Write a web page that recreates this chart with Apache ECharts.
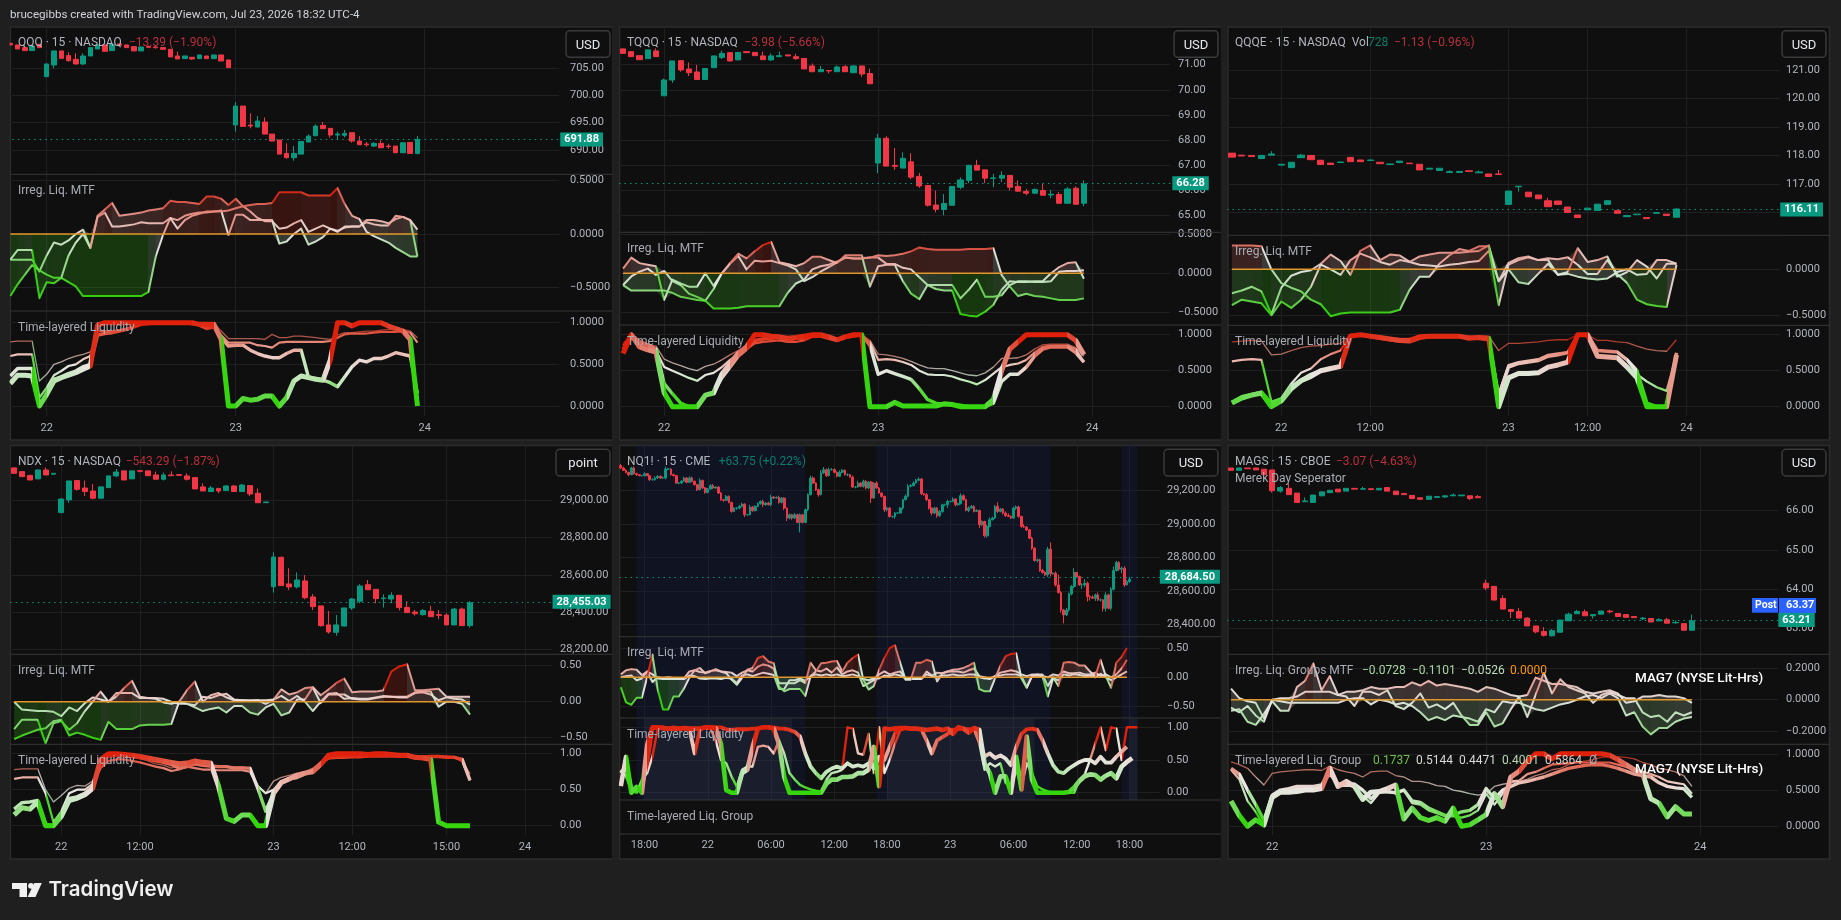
<!DOCTYPE html>
<html><head><meta charset="utf-8">
<style>html,body{margin:0;padding:0;background:#1f1f1f}#c{width:1841px;height:920px}</style>
<script src="https://cdn.jsdelivr.net/npm/echarts@6/dist/echarts.min.js"></script>
</head><body><div id="c"></div>
<script>
// ---------- DATA : candles are [open, close, low, high]
const qqqTime=[[5,'22'],[31,'23'],[57,'24']];
const qqqTicks=[690,695,700,705];
const qqqLast=691.88;
const qqqBars=[[709.61,709.3,709.3,709.61],[709.3,708.56,708.56,709.3],[708.81,708.26,708.26,708.81],[708.26,709.12,708.26,709.12],[709.43,708.81,708.81,709.43],
[703.46,705.8,703.46,705.9],[705.61,708.2,705,708.25],[708.2,706.84,706.84,708.2],[707.34,706.41,706.23,707.95],[706.66,705.8,705.68,707.77],[705.8,707.27,705.61,707.77],[707.27,708.81,707.27,708.81],[708.56,709.3,708.56,709.3],[709.3,708.13,708.13,709.3],[708.26,709.43,708.26,709.43],[709.49,709.24,709.24,709.49],[709.3,708.81,708.81,709.3],[709,708.2,708.2,709],[708.2,708.93,708.2,708.93],[709,708.87,708.7,709.2],[708.93,708.81,708.6,709.1],[708.81,708.5,708.4,708.81],[708.5,707.09,707.09,708.5],[707.27,706.72,706.72,708.07],[706.78,707.27,706.78,707.27],[707.03,706.72,706.54,707.03],[706.78,707.46,706.78,707.46],[707.27,706.78,706.78,707.27],[706.78,707.46,706.78,707.46],[707.46,706.35,706.35,707.46],[706.54,705.12,705.12,706.54],
[694.55,698.05,693.32,698.79],[698.05,694.31,694.31,698.05],[694.55,694.37,693.94,696.7],[694.18,695.29,694.18,696.21],[695.1,692.89,692.89,695.96],[692.89,691.6,691.6,692.89],[691.79,689.2,689.2,691.79],[689.33,688.53,688.4,691.17],[688.53,689.33,687.97,690.68],[689.2,691.54,689.2,691.54],[691.42,692.52,691.42,692.83],[692.58,694.37,692.58,694.67],[694.49,693.88,693.88,695.1],[693.94,692.71,692.22,693.94],[692.71,692.89,691.79,693.32],[692.65,693.01,692.28,693.63],[693.14,691.6,691.29,693.14],[691.6,690.92,690.92,692.52],[691.05,690.92,690.56,691.42],[690.68,691.17,690.49,691.42],[691.17,690.37,690.37,691.79],[690.68,690.56,690.19,691.11],[690.68,689.45,689.45,690.68],[689.45,691.29,689.45,691.29],[691.36,689.33,689.33,691.36],[689.33,691.91,689.14,692.52]];
const qqqOscA=[-.58,-.47,-.38,-.29,-.34,-.38,-.41,-.41,-.45,-.49,-.58,-.58,-.58,-.58,-.58,-.58,-.58,-.58,-.58,-.54,-.21,-.01,.15,.05,.13,.17,.19,.21,.21,.21,.22,.24,.26,.21,.15,.12,.12,.05,.06,.1,.13,.02,.05,.08,.05,.03,.06,.07,.07,.13,.13,.12,.1,.14,.16,.13,.04];
const qqqOscB=[-.24,-.15,-.15,-.15,-.6,-.45,-.46,-.41,-.2,-.08,0,-.13,.17,.23,.29,.17,.18,.19,.2,.22,.23,.24,.31,.3,.3,.29,.28,.35,.35,.33,.27,.33,.26,.27,.28,.28,.29,.39,.39,.39,.39,.36,.36,.36,.36,.43,.28,.17,.14,.02,-.02,-.05,-.08,-.13,-.17,-.21,-.21];
const qqqOscC=[-.24,-.24,-.24,-.24,-.35,-.2,-.08,-.1,-.06,0,.04,-.13,.16,.2,.07,.07,.08,.09,.11,.1,.1,.1,.15,.13,.17,.19,.2,.2,.21,.22,-.01,.18,.18,.13,.13,.13,.13,-.09,-.07,0,.05,-.1,-.07,-.03,.05,.02,.07,.07,.07,.11,.09,.08,.08,.17,.16,.13,-.21];
const qqqLiqS=[.77,.78,.78,.78,.3,.38,.5,.53,.57,.6,.62,.65,.85,.88,.88,.9,.92,.95,.98,1,1,1,1,1,1,1,.99,.99,.99,.9,.81,.81,.81,.81,.81,.8,.86,.82,.82,.84,.84,.83,.82,.81,.8,.85,.88,.88,.89,.9,.9,.91,.92,.92,.92,.9,.82];
const qqqLiqN=[.6,.62,.62,.62,.1,.22,.37,.42,.48,.5,.56,.6,.9,.9,.9,.91,.93,.96,.98,1,1,1,1,1,1,.98,.97,.95,.96,.85,.76,.76,.76,.76,.73,.72,.7,.76,.77,.77,.77,.77,.77,.77,.78,.82,.86,.87,.87,.87,.88,.89,.89,.89,.9,.88,.76];
const qqqLiqM=[.36,.45,.45,.45,0,.15,.32,.35,.39,.42,.47,.5,.85,.87,.88,.9,.92,.95,.98,.99,1,1,1,1,1,1,.97,.93,.95,.82,.72,.73,.73,.67,.63,.6,.58,.58,.63,.67,.67,.35,.33,.31,.28,.23,.35,.47,.55,.53,.57,.57,.6,.64,.62,.6,.15];
const qqqLiqT=[.27,.37,.37,.36,0,.14,.3,.34,.37,.4,.44,.48,.97,1,1,1,1,1,1,1,1,1,1,1,1,1,.98,.98,.98,.8,0,0,.09,.07,.08,.12,.12,0,.1,.3,.36,.34,.32,.31,.55,1,1,.96,1,1,1,1,.96,.93,.9,.8,0];

const tqqqTime=[[5,'22'],[31,'23'],[57,'24']];
const tqqqTicks=[65,66,67,68,69,70,71];
const tqqqLast=66.28;
const tqqqBars=[[71.63,71.45,71.45,71.63],[71.52,71.32,71.32,71.52],[71.36,71.2,71.2,71.36],[71.24,71.59,71.24,71.59],[71.55,71.32,71.32,71.65],
[69.76,70.39,69.76,70.45],[70.39,71.15,70.28,71.15],[71.16,70.79,70.72,71.16],[70.83,70.68,70.55,71.09],[70.71,70.41,70.39,70.99],[70.41,70.85,70.41,70.85],[70.88,71.35,70.88,71.35],[71.29,71.45,71.23,71.56],[71.48,71.15,71.12,71.48],[71.19,71.49,71.19,71.49],[71.52,71.48,71.48,71.52],[71.49,71.36,71.36,71.49],[71.35,71.2,71.2,71.52],[71.19,71.35,71.15,71.45],[71.32,71.36,71.32,71.52],[71.39,71.35,71.35,71.39],[71.32,71.24,71.19,71.43],[71.25,70.83,70.83,71.25],[70.95,70.72,70.72,71.05],[70.72,70.81,70.72,70.95],[70.77,70.75,70.65,70.77],[70.72,70.91,70.72,70.97],[70.92,70.72,70.72,70.99],[70.68,70.95,70.68,70.97],[70.95,70.63,70.52,70.95],[70.65,70.24,70.24,70.85],
[67.08,68.07,66.68,68.25],[68.07,66.96,66.96,68.15],[66.99,66.95,66.81,67.68],[66.88,67.27,66.88,67.51],[67.13,66.52,66.44,67.47],[66.55,66.17,66.09,66.69],[66.19,65.4,65.35,66.19],[65.41,65.24,65.12,65.99],[65.23,65.47,65,65.85],[65.4,66.15,65.4,66.15],[66.12,66.41,66.04,66.51],[66.39,66.99,66.28,67.01],[66.99,66.8,66.8,67.21],[66.81,66.48,66.28,66.81],[66.47,66.49,66.12,66.65],[66.48,66.59,66.32,66.75],[66.59,66.12,65.99,66.59],[66.15,65.96,65.96,66.39],[65.95,65.88,65.8,66.05],[65.88,66.03,65.85,66.07],[65.99,65.8,65.8,66.25],[65.81,65.84,65.68,66.01],[65.83,65.48,65.48,65.93],[65.48,66.05,65.48,66.12],[66.08,65.44,65.44,66.15],[65.48,66.25,65.36,66.39]];
const tqqqOscA=[-.15,-.22,-.22,-.22,-.22,-.22,-.25,-.3,-.32,-.34,-.35,-.45,-.45,-.45,-.44,-.42,-.42,-.42,-.42,-.42,-.25,-.13,-.08,.05,.09,.11,.15,.2,.19,.19,.2,.23,.22,.23,.25,.28,.33,.31,.3,.3,.3,.3,.31,.31,.31,.32,-.02,-.17,-.29,-.26,-.29,-.3,-.32,-.34,-.34,-.34,-.32];
const tqqqOscB=[.06,.2,.13,.11,.09,-.34,-.08,-.13,-.17,-.17,0,-.16,0,.13,.25,.19,.28,.36,.4,.14,.12,.09,.13,.21,.21,.17,.13,.23,.23,.23,-.17,.09,.11,.11,-.1,-.26,-.33,-.15,-.15,-.15,-.15,-.32,-.21,-.08,-.3,-.3,-.28,-.15,-.1,-.1,-.11,-.11,-.1,.02,.03,.03,.04];
const tqqqOscC=[-.15,-.04,.02,.06,-.02,.03,-.1,-.15,-.26,-.3,-.35,-.2,0,.12,.22,.05,.16,.15,.16,.13,.1,.05,-.1,-.05,.02,.08,.14,.2,.19,.19,.2,.2,.12,.12,.07,.05,-.05,-.15,-.2,-.22,-.22,-.52,-.54,-.55,-.49,-.4,-.21,-.1,-.11,-.11,-.1,-.1,.0,.08,.13,.14,-.07];
const tqqqLiqS=[.88,1,.93,.87,.84,.66,.61,.57,.53,.5,.56,.59,.65,.72,.78,.85,.92,.95,.97,.97,.96,.97,.98,1,1,.98,.95,.98,1,1,.92,.73,.72,.7,.67,.63,.58,.54,.53,.53,.5,.47,.44,.43,.47,.55,.67,.67,.68,.72,.8,.86,.87,.87,.87,.82,.7];
const tqqqLiqN=[.85,.98,.88,.84,.78,.55,.5,.45,.4,.36,.44,.47,.55,.65,.73,.8,.88,.9,.91,.92,.9,.9,.92,.97,.98,.95,.92,.96,.98,.99,.9,.65,.66,.65,.62,.58,.5,.45,.44,.44,.42,.38,.35,.31,.37,.46,.55,.58,.6,.65,.75,.83,.85,.85,.85,.8,.62];
const tqqqLiqM=[.8,1,.9,.86,.8,.32,.18,.05,0,0,.16,.2,.4,.55,.7,.8,.92,.94,.95,.96,.92,.95,.95,.98,.98,.95,.92,.96,.98,1,.85,.45,.5,.46,.42,.38,.25,.1,.05,.03,.03,.02,0,0,0,.05,.35,.45,.45,.55,.7,.8,.83,.83,.83,.75,.62];
const tqqqLiqT=[.74,1,.83,.79,.76,.19,0,0,0,0,.16,.19,.45,.6,.74,.83,1,1,.98,.97,.95,.96,.98,1,1,.97,.93,.97,1,1,0,0,0,.06,.01,.01,.01,.01,.01,.04,.03,0,0,0,0,.1,.5,.8,.9,1,1,1,1,1,1,.92,.72];

const qqqeTime=[[5,'22'],[14,'12:00'],[28,'23'],[36,'12:00'],[46,'24']];
const qqqeTicks=[116,117,118,119,120,121];
const qqqeLast=116.11;
const qqqeBars=[[118.09,117.95,117.95,118.09],[118.02,117.99,117.99,118.03],[118.01,117.97,117.97,118.01],[117.9,118.01,117.9,118.01],[118.02,118.06,118.02,118.16],[117.67,117.7,117.65,117.7],[117.58,117.77,117.58,117.77],[117.93,118.02,117.93,118.06],[118.01,117.86,117.86,118.01],[117.84,117.69,117.69,117.84],[117.74,117.69,117.69,117.74],[117.76,117.78,117.76,117.78],[117.94,117.79,117.79,117.94],[117.85,117.79,117.79,117.85],[117.83,117.85,117.83,117.85],[117.77,117.72,117.72,117.77],[117.69,117.71,117.69,117.71],[117.76,117.81,117.76,117.81],[117.74,117.72,117.72,117.74],[117.7,117.5,117.5,117.7],[117.53,117.56,117.53,117.56],[117.48,117.56,117.48,117.56],[117.41,117.44,117.41,117.49],[117.41,117.45,117.41,117.45],[117.47,117.45,117.45,117.47],[117.4,117.43,117.4,117.48],[117.36,117.27,117.27,117.36],[117.36,117.34,117.34,117.5],
[116.29,116.76,116.29,116.76],[116.91,116.93,116.74,116.93],[116.72,116.56,116.56,116.72],[116.62,116.49,116.49,116.62],[116.42,116.21,116.21,116.52],[116.41,116.29,116.29,116.41],[116.2,116.01,116.01,116.2],[115.92,115.83,115.83,115.92],[116.1,116.16,116.1,116.16],[116.08,116.3,116.08,116.3],[116.29,116.42,116.29,116.42],[116.07,115.98,115.98,116.07],[115.86,115.9,115.86,115.9],[115.93,115.95,115.93,115.95],[115.83,115.79,115.79,115.83],[115.98,116,115.98,116],[115.95,115.9,115.9,115.95],[115.84,116.13,115.84,116.15]];
const qqqeOscA=[.26,.26,.26,.25,0,-.15,-.2,-.24,-.33,-.38,-.51,-.48,-.47,-.47,-.47,-.47,-.47,-.44,-.22,-.08,-.08,.06,.15,.22,.2,.25,.25,-.39,.05,.1,.13,.1,.1,-.06,-.03,.23,.08,.1,.14,-.08,-.03,.1,.03,-.1,.06,.06];
const qqqeOscB=[-.26,-.23,-.19,-.24,-.49,-.2,-.07,-.03,-.01,.06,.16,.09,-.06,.2,.26,.1,.16,.15,.08,.05,.04,.03,.05,.06,.08,.09,.2,-.13,0,-.14,-.16,-.05,.06,-.06,-.05,-.08,-.1,-.11,-.1,-.03,0,-.06,-.05,.1,.1,.06];
const qqqeOscC=[-.39,-.33,-.35,-.37,-.5,-.35,-.42,-.33,-.19,.05,0,-.06,.1,.17,.13,.08,.05,.1,.08,.14,.16,.18,.18,.18,.19,.2,.26,-.13,.07,.12,.14,.1,.12,.11,.13,.05,-.05,-.05,.1,-.05,-.15,-.33,-.38,-.4,-.41,.05];
const qqqeLiqS=[.9,.91,.92,.91,.72,.73,.78,.82,.84,.85,.87,.88,.99,1,.98,.97,.96,.95,.95,.98,.99,.99,.99,.99,.98,.98,.98,.78,.88,.88,.89,.9,.92,.93,.93,1,1,.92,.92,.9,.89,.84,.8,.78,.77,.93];
const qqqeLiqN=[.63,.65,.66,.65,.07,.12,.32,.47,.53,.66,.73,.78,1,1,.98,.96,.94,.93,.93,.97,.98,.98,.98,.98,.97,.97,.95,.18,.58,.62,.64,.66,.72,.74,.76,1,1,.78,.77,.76,.65,.45,.35,.27,.22,.72];
const qqqeLiqM=[.06,.14,.17,.2,.05,.1,.28,.37,.45,.5,.53,.56,.98,1,.97,.95,.93,.91,.9,.95,.97,.97,.97,.97,.96,.95,.93,.15,.55,.6,.62,.64,.7,.72,.75,1,1,.78,.77,.76,.65,.5,.05,0,0,.75];
const qqqeLiqT=[.05,.12,.16,.19,0,.08,.25,.36,.42,.5,.53,.56,.98,1,.98,.96,.94,.92,.92,.97,.98,.98,.98,.98,.95,.96,.95,0,.4,.46,.46,.47,.55,.58,.62,1,1,.7,.69,.68,.55,.4,0,0,0,.72];

const ndxTime=[[6,'22'],[16,'12:00'],[33,'23'],[43,'12:00'],[55,'15:00'],[65,'24']];
const ndxTicks=[28200,28400,28600,28800,29000];
const ndxLast=28455.03;
const ndxBars=[[29174,29145,29145,29174],[29154,29127,29127,29154],[29134,29109,29109,29134],[29115,29163,29115,29163],[29163,29136,29136,29177],[29140,29145,29140,29145],
[28934,29007,28930,29010],[29002,29104,28987,29104],[29106,29059,29052,29106],[29066,29047,29023,29106],[29050,29011,29005,29088],[29011,29072,29011,29072],[29068,29131,29068,29131],[29131,29152,29124,29168],[29158,29109,29109,29158],[29115,29158,29115,29158],[29159,29156,29150,29160],[29158,29132,29132,29158],[29136,29113,29113,29154],[29113,29136,29106,29149],[29136,29132,29132,29156],[29138,29134,29130,29138],[29131,29113,29106,29145],[29122,29061,29061,29122],[29072,29050,29050,29091],[29047,29066,29047,29077],[29064,29050,29038,29064],[29052,29077,29052,29082],[29077,29047,29047,29082],[29047,29082,29047,29088],[29079,29034,29023,29079],[29038,28987,28987,29064],[28987,28991,28987,28991],
[28536,28696,28504,28721],[28694,28542,28542,28697],[28551,28535,28518,28635],[28535,28572,28527,28613],[28567,28477,28468,28599],[28481,28429,28411,28497],[28433,28327,28322,28433],[28331,28293,28284,28406],[28291,28331,28273,28384],[28325,28422,28322,28422],[28422,28470,28411,28476],[28458,28540,28447,28549],[28547,28520,28520,28572],[28522,28472,28447,28522],[28472,28476,28424,28495],[28470,28490,28447,28506],[28490,28424,28408,28490],[28425,28397,28397,28458],[28400,28391,28381,28411],[28386,28408,28381,28416],[28404,28375,28375,28433],[28386,28382,28361,28411],[28384,28331,28331,28393],[28331,28416,28331,28422],[28416,28327,28327,28424],[28327,28450,28316,28459]];
const ndxOscA=[-.52,-.47,-.43,-.39,-.37,-.27,-.25,-.47,-.43,-.46,-.5,-.53,-.28,-.38,-.38,-.38,-.33,-.32,-.32,-.32,-.31,0,.16,.28,0,.09,.12,.06,.02,.02,.02,.02,.02,.03,.17,.1,.13,.19,.2,.09,.17,.26,.32,.13,.14,.14,.14,.16,.42,.49,.52,.16,.16,.17,.18,.07,.07,.07,.07];
const ndxOscB=[-.38,-.25,-.25,-.25,-.58,-.3,-.27,-.39,-.3,-.13,0,.14,0,.07,.19,.29,.07,.05,.05,.04,0,-.03,-.03,-.08,-.13,-.1,-.08,-.15,-.06,-.06,-.15,-.18,-.08,-.03,-.19,-.15,.03,.03,.2,-.02,.1,.1,.1,.04,.03,.03,.05,.07,.07,.07,.07,.13,.14,.14,-.07,0,0,-.03,-.18];
const ndxOscC=[0,-.11,-.12,-.13,-.13,-.14,-.2,-.08,-.13,-.02,.06,.03,0,.12,.12,.12,.05,.05,.04,-.01,-.03,0,-.03,-.05,.07,.05,.09,.11,.03,.02,.01,.02,-.03,.03,.08,.01,.08,0,-.13,0,.11,.12,.04,.05,.04,.04,.06,.08,.07,.06,.06,.12,.13,.1,.02,.06,.04,.03,-.04];
const ndxLiqS=[.78,.79,.79,.79,.5,.33,.42,.52,.56,.55,.62,.8,.95,.96,.96,.95,.93,.9,.86,.84,.8,.84,.86,.84,.83,.82,.82,.82,.82,.82,.8,.55,.45,.62,.67,.7,.73,.75,.8,.88,.95,.97,.97,.97,.97,.98,.98,.98,.97,.97,.96,.96,.97,.97,.96,.96,.95,.9,.72];
const ndxLiqN=[.65,.67,.67,.67,.45,.05,.2,.45,.5,.5,.58,.8,.9,.92,.92,.9,.88,.85,.82,.8,.76,.78,.82,.8,.78,.78,.77,.77,.77,.77,.75,.55,.45,.5,.62,.66,.7,.73,.78,.88,.93,.94,.94,.95,.95,.96,.96,.96,.96,.96,.96,.93,.96,.97,.97,.96,.95,.9,.63];
const ndxLiqM=[.23,.32,.33,.35,.02,0,.13,.38,.4,.45,.53,.85,.98,.98,.97,.96,.95,.93,.9,.88,.85,.8,.82,.86,.84,.83,.82,.82,.8,.8,.8,.52,.2,.45,.6,.65,.67,.72,.75,.85,.95,.97,.97,.97,.97,.97,.98,.98,.98,.97,.97,.95,.95,.96,.96,.95,.95,.92,.63];
const ndxLiqT=[.15,.25,.23,.33,0,0,.13,.35,.38,.43,.52,.92,1,1,.99,.98,.96,.94,.92,.9,.88,.86,.87,.9,.88,.87,.55,.1,.06,.15,.15,0,0,.45,.6,.65,.7,.73,.75,.85,.98,1,1,1,1,.99,1,1,.99,.98,.98,.95,.94,.92,.05,0,0,0,0];

const nqTime=[[9,'18:00'],[33,'22'],[57,'06:00'],[81,'12:00'],[101,'18:00'],[125,'23'],[149,'06:00'],[173,'12:00'],[193,'18:00']];
const nqTicks=[28400,28600,28800,29000,29200];
const nqLast=28684.5;
const nqSessions=[[6,70],[97,163],[190,196]];
const nqBoxes=[[9,65],[101,157],[193,196]];
const nqClose=[29336,29322,29310,29296,29336,29302,29296,29290,29290,29302,29290,29266,29266,29276,29286,29276,29276,29330,29330,29296,29290,29246,29246,29256,29276,29250,29276,29256,29236,29206,29262,29216,29190,29210,29230,29216,29222,29186,29146,29142,29166,29130,29076,29096,29096,29106,29120,29056,29056,29102,29080,29106,29122,29136,29116,29126,29116,29162,29156,29160,29130,29156,29096,29036,29056,29036,29056,29010,29056,29010,29086,29176,29276,29246,29206,29176,29306,29326,29290,29326,29326,29310,29286,29310,29322,29296,29296,29282,29222,29222,29246,29226,29256,29216,29252,29156,29246,29216,29186,29166,29086,29096,29046,29046,29066,29066,29096,29146,29166,29226,29230,29246,29262,29270,29182,29176,29146,29096,29066,29096,29050,29076,29116,29116,29136,29136,29150,29116,29122,29170,29146,29082,29096,29106,29076,29082,28996,29016,28930,28986,29026,29036,29106,29076,29090,29066,29050,29046,29036,29096,29102,29046,28986,28982,28966,28916,28856,28782,28786,28722,28710,28696,28850,28702,28706,28636,28590,28486,28456,28486,28582,28626,28710,28686,28636,28636,28646,28566,28562,28556,28576,28546,28546,28496,28576,28496,28610,28722,28770,28730,28736,28636,28656,28670];
const nqUp=[10,8,6,4,8,10,6,4,4,8,4,4,8,10,8,6,8,14,6,4,6,4,4,8,8,6,10,8,6,4,12,4,6,6,10,10,6,4,6,4,8,6,4,6,6,8,8,4,6,14,6,8,8,6,10,6,8,14,6,6,10,6,4,4,8,6,10,6,8,4,8,8,14,10,4,6,18,16,6,12,10,8,6,12,8,6,8,4,8,6,14,6,10,8,6,6,4,10,6,4,4,8,6,4,6,4,6,6,12,14,10,10,8,10,6,4,10,4,4,8,6,8,6,6,10,4,10,4,6,14,8,6,10,8,8,8,4,6,4,10,14,8,8,24,6,6,10,14,6,8,10,8,4,14,6,4,8,6,8,6,10,8,14,40,6,10,60,8,6,12,8,10,26,4,6,10,24,10,8,12,8,14,10,4,16,8,12,24,10,8,10,12,10,14,14,10];
const nqDn=[6,4,6,10,4,6,8,4,6,4,4,8,6,6,4,6,4,8,8,6,4,4,8,6,4,6,4,6,4,8,4,6,8,6,4,6,4,6,6,8,4,6,8,4,10,8,6,14,6,4,6,4,4,6,14,6,4,10,6,4,8,6,12,18,8,10,6,4,60,6,4,8,4,6,8,12,4,6,8,4,6,6,6,4,6,6,10,4,6,8,4,6,8,8,6,30,4,6,4,8,14,10,8,8,14,6,4,10,4,4,6,4,4,6,8,6,8,10,14,6,12,8,8,8,20,6,6,10,6,4,6,6,10,4,6,4,20,8,10,12,6,4,6,10,6,8,6,4,6,4,10,8,8,6,8,6,10,6,12,8,6,6,12,16,4,10,6,16,50,6,10,8,10,8,6,24,14,30,20,4,16,6,10,20,20,6,12,8,6,10,24,12,4,8,10,8,16];
// irregular liquidity and time-layered lines of NQ1! are read at every second bar
const nqOscA=[-.17,-.43,-.47,-.35,-.35,0,.39,-.21,-.55,-.55,-.33,-.33,-.19,-.01,.12,.16,.07,.1,.14,.1,.07,-.04,-.13,-.01,.13,.16,.33,.36,.27,.24,-.16,-.24,-.2,-.2,-.2,-.32,.02,.1,.24,.25,.27,.28,.1,.25,.33,.39,-.04,-.21,-.15,.13,.33,.5,.55,.25,-.04,-.04,.25,.25,.3,.27,-.07,.07,.1,.13,.14,.16,.2,.25,-.2,-.24,-.24,-.02,.2,.36,.4,.41,-.02,-.18,.02,.05,.05,-.15,0,-.15,.25,.26,.25,.2,.2,.1,.02,.3,.02,-.18,.25,.35,.5];
const nqOscB=[.05,.12,.14,.13,.04,.1,.05,-.02,-.03,-.03,-.03,-.03,-.02,.1,.12,.09,.08,.11,.12,.1,.09,.08,.02,.08,.12,.1,.18,.22,.2,.15,-.1,-.1,-.1,-.1,-.05,-.1,.25,.12,.1,.15,.08,.17,.05,.1,.12,.08,-.15,-.1,-.05,.05,.1,.05,.08,.1,-.02,-.03,-.03,-.03,.1,.03,.08,.07,.1,.1,.1,.08,.12,.15,.02,0,-.03,.02,.08,.1,.12,.1,.05,.02,.05,.05,.02,0,.05,.03,.1,.07,.07,.08,.05,.05,.08,.02,.05,0,.05,.15,.3];
const nqOscC=[0,.02,.03,-.05,-.02,.1,-.08,0,-.01,0,-.01,-.02,-.03,.03,.02,-.02,-.03,-.02,-.02,-.03,-.01,-.02,-.1,.03,.05,.02,.05,.08,.06,.04,-.2,-.2,-.05,-.05,-.02,-.06,.02,.05,.03,.05,.03,.05,.02,.03,.05,.02,-.03,-.05,-.02,-.02,.03,.02,.05,.03,-.02,-.02,-.03,-.03,.05,.02,0,.03,.03,.05,.03,.03,.05,.05,0,-.02,-.02,.02,.03,.05,.05,.05,.02,-.17,.02,.03,.02,-.33,-.02,-.05,.05,.03,.05,.04,.02,.03,0,.06,0,-.05,0,.05,.1];
const nqLiqN=[.35,.25,.02,0,.2,.3,.55,.98,.97,.97,.98,.97,.98,.97,.98,.97,.98,.98,.8,.5,.45,.25,.09,.35,.4,.4,.7,.72,.7,.6,.8,.6,.3,.2,.12,.08,.05,.03,.02,.2,.3,.32,.35,1,.98,.6,.58,.9,.3,1,.3,.5,.75,.95,.98,.98,.97,.96,.95,.97,.97,.96,.97,.97,.97,.97,.97,.97,.75,.35,.45,.4,.45,.15,.08,.35,.1,.45,.3,.1,.05,.02,0,0,0,0,0,.2,.28,.5,.75,1,.65,1,.98,.5,1,1,1];
const nqLiqM=[.3,.4,.07,.04,.09,.45,.98,1,1,.98,1,.98,.98,.98,.6,.96,1,1,1,1,.97,.96,.97,.97,.97,.98,.98,1,1,1,.98,.98,.96,.93,.86,.6,.4,.3,.22,.32,.37,.4,.37,.45,.4,.42,.4,.45,.37,.55,.5,.7,.9,.99,.99,.98,.98,.97,.8,.6,.8,.85,.9,.95,.98,.98,.97,.98,.8,.55,.6,.53,.57,.52,.42,.7,.9,.97,.98,.96,.8,.6,.42,.32,.3,.37,.42,.47,.5,.5,.45,.55,.46,.46,.55,.63,.7];
const nqLiqT=[.1,.55,0,.09,0,.73,1,1,.99,.98,.98,.98,.99,.98,.98,.98,1,1,.99,.75,.04,0,0,.3,.35,.7,.98,1,1,.98,.75,.24,0,0,0,0,0,0,0,.14,.2,.2,.24,.24,.25,.3,.3,.35,.7,.1,.98,.97,.98,.99,.99,.98,.98,.97,.96,.97,.98,.96,.98,.9,1,.98,.92,.99,.96,.45,.3,0,.25,.25,0,.55,.05,.86,.2,0,0,0,0,0,0,.01,.08,.18,.25,.28,.27,.2,.26,.3,.22,.4,.47,.53];

const magsTime=[[5,'22'],[31,'23'],[57,'24']];
const magsTicks=[63,64,65,66];
const magsLast=63.21;
const magsBars=[[67.09,67.03,67.03,67.09],[67.03,67.09,67.03,67.09],[67.09,67.07,67.07,67.09],[67.09,67.04,67.04,67.09],[67.06,66.92,66.92,67.06],
[67.04,66.51,66.46,67.04],[66.5,66.59,66.46,66.63],[66.57,66.41,66.41,66.7],[66.45,66.21,66.21,66.45],[66.23,66.25,66.23,66.34],[66.21,66.4,66.21,66.4],[66.38,66.48,66.38,66.48],[66.46,66.52,66.46,66.52],[66.55,66.48,66.48,66.55],[66.5,66.57,66.5,66.57],[66.57,66.55,66.55,66.57],[66.55,66.56,66.53,66.61],[66.56,66.54,66.52,66.56],[66.53,66.57,66.53,66.57],[66.59,66.5,66.5,66.59],[66.5,66.41,66.41,66.5],[66.44,66.41,66.41,66.44],[66.39,66.31,66.31,66.39],[66.33,66.29,66.29,66.33],[66.29,66.37,66.29,66.37],[66.34,66.36,66.34,66.36],[66.35,66.38,66.33,66.38],[66.38,66.4,66.38,66.44],[66.38,66.4,66.38,66.4],[66.38,66.31,66.27,66.38],[66.36,66.33,66.33,66.4],
[64.15,64.03,63.97,64.24],[64.07,63.72,63.72,64.07],[63.76,63.49,63.49,63.84],[63.48,63.43,63.26,63.48],[63.43,63.26,63.26,63.52],[63.26,63.06,63.06,63.28],[63.06,62.91,62.87,63.06],[62.92,62.82,62.79,63.03],[62.81,62.94,62.79,62.98],[62.9,63.21,62.9,63.21],[63.19,63.36,63.19,63.4],[63.37,63.43,63.37,63.47],[63.42,63.32,63.32,63.48],[63.32,63.35,63.25,63.35],[63.36,63.44,63.36,63.44],[63.44,63.42,63.38,63.47],[63.38,63.3,63.3,63.38],[63.35,63.28,63.28,63.35],[63.3,63.27,63.27,63.3],[63.24,63.26,63.21,63.29],[63.25,63.16,63.16,63.25],[63.19,63.22,63.19,63.26],[63.22,63.13,63.13,63.27],[63.14,63.15,63.12,63.2],[63.12,62.95,62.95,63.12],[62.95,63.19,62.95,63.35]];
const magsOscA=[.07,.01,-.01,-.02,-.12,0,.01,.01,.02,.05,.05,.05,.05,.03,.05,.05,.06,.08,.07,.07,.08,.08,.11,.09,.12,.09,.1,.09,.08,.07,.05,.08,.07,.05,.03,.02,.03,.14,.12,.1,.1,.09,.08,.05,.04,.05,.06,.04,-.02,-.01,.02,.02,.03,.02,.02,.01,-.02];
const magsOscB=[-.07,-.06,-.14,-.16,-.09,-.01,-.07,-.07,.08,.12,.23,.06,.15,.03,.02,-.04,.05,.05,.03,.06,-.04,-.06,-.02,.04,-.05,-.03,-.06,-.02,-.1,-.16,-.16,-.08,-.17,-.15,-.06,.02,-.11,.03,.17,.04,.13,.08,.06,.04,-.02,.03,.05,.03,.01,.01,-.08,-.11,-.1,-.14,-.08,-.1,-.08];
const magsOscC=[-.05,-.08,-.04,-.1,-.14,0,-.01,-.02,-.02,-.02,-.02,-.02,-.02,-.02,0,.01,.01,-.03,0,-.01,-.03,-.02,-.04,-.08,-.13,-.11,-.13,-.1,-.11,-.12,-.14,-.06,-.08,-.01,-.02,-.02,-.04,-.06,-.07,-.05,-.03,-.02,0,.02,.03,.01,.04,.01,-.1,-.08,-.17,-.22,-.18,-.18,-.14,-.12,-.11];
const magsLiqS=[.89,.85,.8,.68,.57,.73,.75,.76,.77,.78,.78,.77,.83,.78,.75,.73,.68,.75,.76,.76,.7,.68,.62,.62,.6,.56,.55,.5,.48,.45,.43,.45,.55,.58,.6,.62,.65,.7,.73,.78,.8,.85,.88,.9,.92,.95,.96,.96,.95,.93,.88,.85,.8,.78,.75,.7,.55];
const magsLiqN=[.8,.72,.5,.3,.08,.43,.5,.52,.55,.55,.55,.57,.73,.58,.6,.58,.5,.38,.48,.48,.46,.5,.35,.33,.25,.2,.15,.15,.2,.22,.3,.52,.38,.5,.55,.6,.62,.65,.68,.72,.76,.8,.82,.84,.85,.85,.83,.8,.76,.72,.7,.68,.6,.55,.53,.52,.4];
const magsLiqM=[.78,.65,.35,.2,0,.42,.48,.5,.52,.52,.53,.55,.75,.55,.56,.55,.42,.32,.46,.47,.46,.5,.32,.3,.22,.18,.14,.14,.12,.15,.22,.45,.3,.45,.62,.63,.72,.75,.8,.85,.86,.87,.88,.88,.88,.88,.88,.85,.82,.78,.75,.72,.68,.62,.6,.58,.45];
const magsLiqT=[.35,.15,0,.09,.02,.4,.47,.47,.48,.5,.5,.52,.8,.55,.62,.55,.37,.47,.48,.52,.57,.1,.25,.12,.08,.12,.07,.25,0,.02,.09,.16,.45,.27,.68,.76,.9,1,1,.93,1,1,1,1,1,1,.98,.92,.85,.78,.73,.38,.32,.13,.27,.17,.17];

// ---------- COLOURS
const UP='#089981',DOWN='#f23645',TXT='#b2b5be',GRID='#1f2022',SEP='#363636',BG='#0f0f0f',PAGE='#1f1f1f';
const hex=h=>[1,3,5].map(i=>parseInt(h.substr(i,2),16));
function ramp(stops,v){
  if(v<=stops[0][0])return hex(stops[0][1]);
  for(let i=1;i<stops.length;i++){ if(v<=stops[i][0]){
    const t=(v-stops[i-1][0])/(stops[i][0]-stops[i-1][0]),a=hex(stops[i-1][1]),b=hex(stops[i][1]);
    return a.map((x,k)=>Math.round(x+(b[k]-x)*t)); } }
  return hex(stops[stops.length-1][1]);
}
const liqRamp=[[0,'#35d60e'],[.2,'#7fdc6a'],[.35,'#c4e6bd'],[.5,'#e9e6e2'],[.65,'#eab6ab'],[.82,'#e2705f'],[1,'#e0200a']];
const oscRamp=[[-.5,'#35d60e'],[-.3,'#70d858'],[-.12,'#bfe6bb'],[0,'#e8e8e4'],[.12,'#eeb4ac'],[.25,'#e4766a'],[.4,'#d9230f']];
const css=(c,a)=>`rgba(${c[0]},${c[1]},${c[2]},${a})`;

// ---------- ASSEMBLY
const grids=[],xAxes=[],yAxes=[],series=[],gfx=[];
const fmt=(v,d)=>v.toFixed(d).replace(/\B(?=(\d{3})+(?!\d))(?=.*\.)/g,',').replace('-','\u2212');
function T(x,y,s,fill,font,z){gfx.push({type:'text',z:z||60,silent:true,style:{x,y:y+1.2,text:s,fill:fill||'#a9acb5',font:font||'12px Roboto',verticalAlign:'middle'}});}
function pane(p,top,bottom,cal,ticks,dec,showX,showGrid){
  const gi=grids.length,right=p.left+p.N*p.sp;
  grids.push({left:p.left,top,width:p.N*p.sp,height:bottom-top,show:false});
  const isT=(i,v)=>v!=='';
  xAxes.push({type:'category',gridIndex:gi,data:p.cats,axisLine:{show:false},axisTick:{show:false},
    axisLabel:{show:!!showX,interval:isT,color:TXT,fontFamily:'Roboto',fontSize:11,margin:p.xMargin||7,hideOverlap:false},
    splitLine:{show:showGrid!==false,interval:isT,alignWithLabel:true,lineStyle:{color:GRID,width:1}}});
  const o={type:'value',gridIndex:gi,position:'right',axisLine:{show:false},axisTick:{show:false,customValues:ticks||[]},
    axisLabel:{show:!!ticks,customValues:ticks||[],color:TXT,fontFamily:'Roboto',fontSize:11,margin:p.labelX-right,formatter:v=>fmt(v,dec||0)},
    splitLine:{show:true,lineStyle:{color:GRID,width:1}}};
  if(cal){o.min=cal[1]-(bottom-cal[0])/cal[2];o.max=cal[1]+(cal[0]-top)/cal[2];}else{o.min=0;o.max=1;o.splitLine.show=false;}
  yAxes.push(o);
  return gi;
}
function grad(p,vals,step,colorOf){
  const x=i=>p.left+(i*step+.5)*p.sp,n=vals.length,x0=x(0),x1=x(n-1),st=[];
  for(let j=0;j<n-1;j++){const c=colorOf(vals[j+1],vals[j]);
    st.push({offset:(x(j)-x0)/(x1-x0),color:c},{offset:(x(j+1)-x0)/(x1-x0),color:c});}
  return new echarts.graphic.LinearGradient(x0,0,x1,0,st,true);
}
const expand=(vals,step)=>{if(step===1)return vals;const o=[];vals.forEach((v,i)=>{o.push(v);if(i<vals.length-1)o.push(null);});return o;};
function zones(list,color){return {silent:true,itemStyle:{color},data:list.map(r=>[{xAxis:r[0]},{xAxis:r[1]}])};}
function addOsc(p,gi,lines,step){
  const n=lines[0].length,up=[],dn=[];
  for(let i=0;i<n;i++){const a=lines.map(l=>l[i]);up.push(Math.max(0,...a));dn.push(Math.min(0,...a));}
  [up,dn].forEach((env,k)=>{
    const s={type:'line',xAxisIndex:gi,yAxisIndex:gi,data:expand(env,step),connectNulls:true,symbol:'none',silent:true,animation:false,lineStyle:{width:0},z:2,
      areaStyle:{opacity:1,color:grad(p,env,step,v=>css(ramp(oscRamp,v),.2))}};
    if(k===0&&p.sessions)s.markArea=zones(p.sessions,'rgba(20,30,70,.35)');
    series.push(s);
  });
  lines.forEach((l,k)=>series.push({type:'line',xAxisIndex:gi,yAxisIndex:gi,data:expand(l,step),connectNulls:true,symbol:'none',silent:true,animation:false,z:3+k,
    lineStyle:{width:2,join:'round',color:grad(p,l,step,v=>css(ramp(oscRamp,v),.95))}}));
  series.push({type:'line',xAxisIndex:gi,yAxisIndex:gi,data:expand(new Array(n).fill(0),step),connectNulls:true,symbol:'none',silent:true,animation:false,z:8,lineStyle:{color:'#e0962a',width:1.6}});
}
function addLiq(p,gi,lines,widths,step){
  lines.forEach((l,k)=>{const a=widths[k]<1.6?.75:1;const s={type:'line',xAxisIndex:gi,yAxisIndex:gi,data:expand(l,step),connectNulls:true,symbol:'none',silent:true,animation:false,z:3+k,clip:false,
    lineStyle:{width:widths[k],join:'round',color:grad(p,l,step,v=>css(ramp(liqRamp,v),a))}};
    series.push(s);});
  if(p.sessions){
    series[series.length-lines.length].markArea=zones(p.sessions,'rgba(20,30,70,.35)');
    series[series.length-lines.length+1].markArea=zones(p.boxes,'rgba(120,130,150,.10)');
  }
}
function addCandles(p,gi,bars,last,dec){
  const s={type:'candlestick',xAxisIndex:gi,yAxisIndex:gi,data:bars,barWidth:p.barW||p.sp*.68,animation:false,silent:true,progressive:0,z:3,
    itemStyle:{color:UP,color0:DOWN,borderColor:UP,borderColor0:DOWN,borderWidth:1},
    markLine:{silent:true,symbol:'none',animation:false,precision:4,lineStyle:{color:UP,type:[1.5,4],width:1},
      label:{show:true,position:'end',distance:p.tagGap===undefined?2:p.tagGap,formatter:()=>fmt(last,dec),backgroundColor:UP,color:'#fff',fontFamily:'Roboto',fontWeight:'bold',fontSize:11,padding:[2,p.tagPad||4,1,p.tagPad||4]},
      data:[{yAxis:last}]}};
  if(p.sessions)s.markArea=zones(p.sessions,'rgba(20,30,70,.35)');
  series.push(s);
}
function frame(p){
  gfx.push({type:'rect',z:-20,silent:true,shape:{x:p.x0,y:p.y0,width:p.x1-p.x0,height:p.y1-p.y0},style:{fill:BG,stroke:'#2c2c2c',lineWidth:1.5}});
  gfx.push({type:'rect',z:40,silent:true,shape:{x:p.x0-7,y:p.y0-1,width:6.2,height:p.y1-p.y0+2},style:{fill:PAGE}});
  (p.seps||[]).forEach(y=>gfx.push({type:'line',z:30,silent:true,shape:{x1:p.x0,y1:y,x2:p.x1,y2:y},style:{stroke:SEP,lineWidth:1}}));
  gfx.push({type:'rect',z:50,silent:true,shape:{x:p.btn[0],y:p.btn[1],width:p.btn[2],height:p.btn[3],r:4},style:{fill:BG,stroke:'#3a3a3a',lineWidth:1.5}});
  gfx.push({type:'text',z:51,silent:true,style:{x:p.btn[0]+p.btn[2]/2,y:p.btn[1]+p.btn[3]/2+1.5,text:p.unit||'USD',fill:'#e6e8ee',font:'13px Roboto',align:'center',verticalAlign:'middle'}});
}
function layout(p,time,firstX,firstIdx){
  p.left=firstX-(firstIdx+.5)*p.sp;
  p.N=Math.round((p.right-p.left)/p.sp);
  p.cats=new Array(p.N).fill('');
  time.forEach(t=>{p.cats[t[0]]=t[1];});
}
function stock(p){
  layout(p,p.time,p.x22,p.i22);
  frame(p);
  const a=p.price,b=p.osc,c=p.liq;
  const g0=pane(p,a.top,a.bottom,a.cal,a.ticks,a.dec);
  addCandles(p,g0,p.bars,p.last,a.dec);
  const g1=pane(p,b.top,b.bottom,b.cal,b.ticks,b.dec);
  addOsc(p,g1,p.oscLines,1);
  const g2=pane(p,c.top,c.bottom,c.cal,c.ticks,c.dec,true);
  addLiq(p,g2,p.liqLines,[1.3,2.2,3.4,5],1);
}
stock({x0:10.3,x1:613,y0:27,y1:440,seps:[174.3,311],btn:[566,30.7,44,26.6],sp:7.27,x22:46.7,i22:5,right:561.5,labelX:570,time:qqqTime,bars:qqqBars,last:qqqLast,tagGap:1,
  price:{top:27,bottom:174,cal:[68.3,705,5.43],ticks:qqqTicks,dec:2},
  osc:{top:174.5,bottom:311,cal:[234,0,107],ticks:[-.5,0,.5],dec:4},
  liq:{top:311.5,bottom:416,cal:[406,0,83.3],ticks:[0,.5,1],dec:4},
  oscLines:[qqqOscC,qqqOscA,qqqOscB],liqLines:[qqqLiqS,qqqLiqN,qqqLiqM,qqqLiqT]});
stock({x0:619.5,x1:1221.7,y0:27,y1:440,seps:[232.3,325],btn:[1174,30.7,44,26.6],sp:8.23,x22:664.2,i22:5,right:1171.5,labelX:1178,time:tqqqTime,bars:tqqqBars,last:tqqqLast,
  price:{top:27,bottom:232,cal:[215.3,65,25.1],ticks:tqqqTicks,dec:2},
  osc:{top:232.6,bottom:325,cal:[273.3,0,78.4],ticks:[-.5,0,.5],dec:4},
  liq:{top:325.5,bottom:416,cal:[406.7,0,72],ticks:[0,.5,1],dec:4},
  oscLines:[tqqqOscC,tqqqOscB,tqqqOscA],liqLines:[tqqqLiqS,tqqqLiqN,tqqqLiqM,tqqqLiqT]});
stock({x0:1228,x1:1829.5,y0:27,y1:440,seps:[235.3,325.3],btn:[1782,30.7,44,26.6],sp:9.88,x22:1281.3,i22:5,right:1777.5,labelX:1786,time:qqqeTime,bars:qqqeBars,last:qqqeLast,tagGap:0,
  price:{top:27,bottom:235,cal:[155.7,118,28.5],ticks:qqqeTicks,dec:2},
  osc:{top:235.6,bottom:325,cal:[269.3,0,92],ticks:[-.5,0],dec:4},
  liq:{top:325.6,bottom:416,cal:[406.7,0,72],ticks:[0,.5,1],dec:4},
  oscLines:[qqqeOscB,qqqeOscC,qqqeOscA],liqLines:[qqqeLiqS,qqqeLiqN,qqqeLiqM,qqqeLiqT]});
stock({x0:10.3,x1:613,y0:445.5,y1:859,seps:[654.3,744.3],btn:[556,449.3,54,26.7],unit:'point',sp:7.86,x22:61.3,i22:6,right:552.4,labelX:560,time:ndxTime,bars:ndxBars,last:ndxLast,tagGap:0,tagPad:4,
  price:{top:445.5,bottom:654,cal:[500.3,29000,.18625],ticks:ndxTicks,dec:2},
  osc:{top:654.6,bottom:744,cal:[701.7,0,72],ticks:[-.5,0,.5],dec:2},
  liq:{top:744.6,bottom:835,cal:[825.7,0,72],ticks:[0,.5,1],dec:2},
  oscLines:[ndxOscC,ndxOscB,ndxOscA],liqLines:[ndxLiqS,ndxLiqN,ndxLiqM,ndxLiqT]});
stock({x0:1228,x1:1829.5,y0:445.5,y1:859,seps:[654.3,744.3],btn:[1782,449.3,44,26.7],sp:8.23,x22:1272.2,i22:5,right:1777.5,labelX:1786,time:magsTime,bars:magsBars,last:magsLast,tagGap:0,
  price:{top:445.5,bottom:654,cal:[510.7,66,39.2],ticks:magsTicks,dec:2},
  osc:{top:654.6,bottom:744,cal:[699.7,0,157.5],ticks:[-.2,0,.2],dec:4},
  liq:{top:744.6,bottom:835,cal:[826.3,0,72.5],ticks:[0,.5,1],dec:4},
  oscLines:[magsOscA,magsOscC,magsOscB],liqLines:[magsLiqS,magsLiqM,magsLiqN,magsLiqT]});
// NQ1! : 15-minute bars over two sessions, with open taken from the previous close
const nqBars=nqClose.map((c,i)=>{const o=i?nqClose[i-1]:c+14;return [o,c,Math.min(o,c)-(nqDn[i]||0),Math.max(o,c)+(nqUp[i]||0)];});
(function(){
  const p={x0:619.5,x1:1221.7,y0:445.5,y1:859,seps:[636.7,718,800,834],btn:[1164,449.3,54,26.7],sp:2.636,right:1159.6,labelX:1167,sessions:nqSessions,boxes:nqBoxes,tagPad:5,barW:2.2,tagGap:0};
  layout(p,nqTime,620.8+9*2.636,9);
  frame(p);
  const g0=pane(p,445.5,636.5,[490.7,29200,.167],nqTicks,2);
  addCandles(p,g0,nqBars,nqLast,2);
  const g1=pane(p,637,718,[677.3,0,58.4],[-.5,0,.5],2);
  addOsc(p,g1,[nqOscC,nqOscB,nqOscA],2);
  const g2=pane(p,718.5,800,[792.7,0,65.4],[0,.5,1],2);
  addLiq(p,g2,[nqLiqN,nqLiqM,nqLiqT],[2.4,3.8,4.6],2);
  p.xMargin=6;
  pane(p,800.5,834,null,null,0,true,false);
})();
// legends
T(10,14,'brucegibbs created with TradingView.com, Jul 23, 2026 18:32 UTC-4','#d1d4dc','11.6px Roboto');
const NAME='#b2b5be',RED='#b9303c',TEAL='#0b7d6b';
T(18,41.7,'QQQ \u00b7 15 \u00b7 NASDAQ',NAME);T(129,41.7,'\u221213.39 (\u22121.90%)',RED);
T(18,189.7,'Irreg. Liq. MTF');T(18,327,'Time-layered Liquidity');
T(627,41.7,'TQQQ \u00b7 15 \u00b7 NASDAQ',NAME);T(744.4,41.7,'\u22123.98 (\u22125.66%)',RED);
T(627,247.7,'Irreg. Liq. MTF');T(627,340.7,'Time-layered Liquidity');
T(1235,41.7,'QQQE \u00b7 15 \u00b7 NASDAQ',NAME);T(1351.7,41.7,'Vol',NAME);T(1368,41.7,'728',TEAL);T(1394,41.7,'\u22121.13 (\u22120.96%)',RED);
T(1235,250.7,'Irreg. Liq. MTF');T(1235,340.7,'Time-layered Liquidity');
T(18,460.7,'NDX \u00b7 15 \u00b7 NASDAQ',NAME);T(125.7,460.7,'\u2212543.29 (\u22121.87%)',RED);
T(18,669.7,'Irreg. Liq. MTF');T(18,760,'Time-layered Liquidity');
T(627,460.7,'NQ1! \u00b7 15 \u00b7 CME',NAME);T(718.7,460.7,'+63.75 (+0.22%)',TEAL);
T(627,651.7,'Irreg. Liq. MTF');T(627,734,'Time-layered Liquidity');T(627,816,'Time-layered Liq. Group');
T(1235,460.7,'MAGS \u00b7 15 \u00b7 CBOE',NAME);T(1336,460.7,'\u22123.07 (\u22124.63%)',RED);T(1235,478,'Merek Day Seperator');
T(1235,669.7,'Irreg. Liq. Groups MTF');T(1362,669.7,'\u22120.0728','#a9d6a4');T(1412,669.7,'\u22120.1101','#a9d6a4');T(1461,669.7,'\u22120.0526','#c0dcbc');T(1510,669.7,'0.0000','#ff9800');
T(1235,760,'Time-layered Liq. Group');T(1373,760,'0.1737','#6cc04a');T(1416,760,'0.5144','#d8dcd6');T(1459,760,'0.4471','#d8dcd6');T(1502,760,'0.4001','#bcd8b4');T(1545,760,'0.5864','#d8d0cc');T(1589,760,'\u00d8','#a9acb5');
T(1635,677,'MAG7 (NYSE Lit-Hrs)','#ffffff','500 13.5px Roboto');T(1635,768,'MAG7 (NYSE Lit-Hrs)','#ffffff','500 13.5px Roboto');
// MAGS post-market tag
gfx.push({type:'rect',z:55,silent:true,shape:{x:1752,y:598,width:26,height:14.7},style:{fill:'#2962ff'}});
gfx.push({type:'rect',z:55,silent:true,shape:{x:1779,y:598,width:37,height:15},style:{fill:'#2962ff'}});
T(1755,604.5,'Post','#fff','bold 10.5px Roboto');T(1786,604.5,'63.37','#fff','bold 11px Roboto');
// logo
gfx.push({type:'polygon',z:60,silent:true,shape:{points:[[12,883],[27,883],[27,897],[19.5,897],[19.5,889],[12,889]]},style:{fill:'#f0f0f0'}});
gfx.push({type:'circle',z:60,silent:true,shape:{cx:31,cy:885.8,r:2.9},style:{fill:'#f0f0f0'}});
gfx.push({type:'polygon',z:60,silent:true,shape:{points:[[34.3,883],[41.8,883],[35.5,897],[27.6,897]]},style:{fill:'#f0f0f0'}});
T(48.5,889,'TradingView','#f0f0f0','600 20.5px Inter');

const chart=echarts.init(document.getElementById('c'),null,{renderer:'canvas'});
chart.setOption({backgroundColor:PAGE,animation:false,grid:grids,xAxis:xAxes,yAxis:yAxes,series,graphic:{elements:gfx},tooltip:{show:false}});
</script></body></html>
